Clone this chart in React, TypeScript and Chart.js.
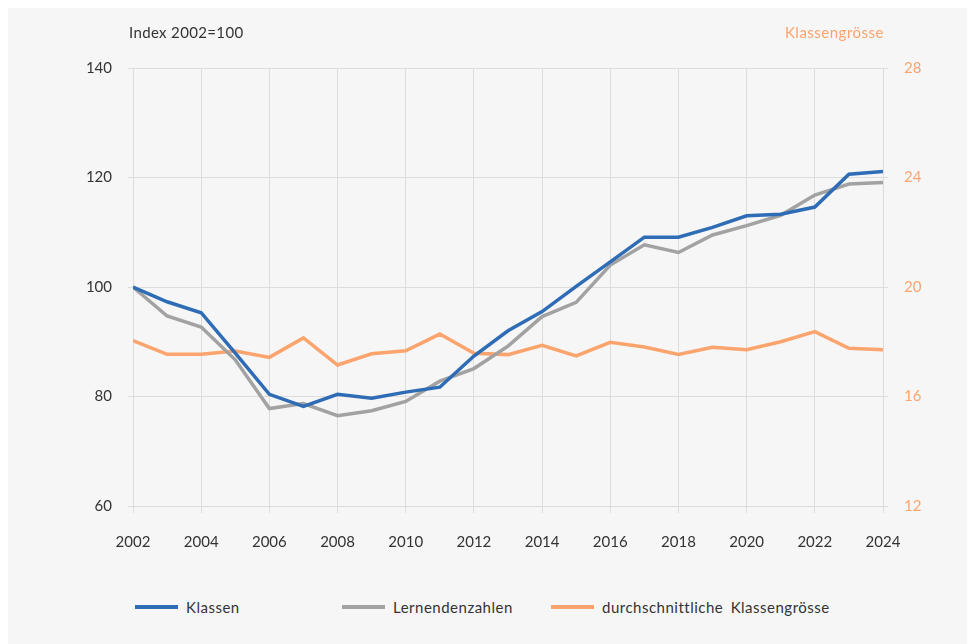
import React, { useEffect, useRef } from "react";
import { Chart, registerables } from "chart.js";

Chart.register(...registerables);

const years = [2002, 2003, 2004, 2005, 2006, 2007, 2008, 2009, 2010, 2011, 2012, 2013, 2014, 2015, 2016, 2017, 2018, 2019, 2020, 2021, 2022, 2023, 2024];
const klassen = [100, 97.3, 95.3, 87.9, 80.4, 78.2, 80.4, 79.7, 80.8, 81.7, 87.4, 92.0, 95.5, 100.1, 104.6, 109.1, 109.1, 110.9, 113.0, 113.3, 114.6, 120.6, 121.1];
const lernende = [100, 94.7, 92.7, 86.7, 77.8, 78.7, 76.5, 77.4, 79.1, 82.8, 85.1, 89.2, 94.6, 97.2, 104.0, 107.7, 106.3, 109.5, 111.2, 113.1, 116.8, 118.8, 119.1];
const klassengroesse = [18.04, 17.54, 17.54, 17.66, 17.43, 18.14, 17.15, 17.56, 17.67, 18.28, 17.58, 17.53, 17.87, 17.48, 17.98, 17.81, 17.54, 17.80, 17.71, 18.0, 18.37, 17.76, 17.71];
const leftTicks = { min: 60, max: 140, step: 20 };
const rightTicks = { min: 12, max: 28, step: 4 };
const seriesNames = ["Klassen", "Lernendenzahlen", "durchschnittliche Klassengrösse"];
const leftTitle = "Index 2002=100";
const rightTitle = "Klassengrösse";

const BLUE = "#2f6cb6";
const GRAY = "#a2a2a2";
const ORANGE = "#fca46d";
const TEXT = "#333333";
const FONT = "Lato, 'Noto Sans', sans-serif";

export default function App() {
  const ref = useRef<HTMLCanvasElement | null>(null);

  useEffect(() => {
    document.documentElement.style.overflow = "hidden";
    document.body.style.overflow = "hidden";
    const ctx = ref.current!;
    const toPts = (arr: number[]) => arr.map((v, i) => ({ x: years[i], y: v }));
    const chart = new Chart(ctx, {
      type: "line",
      data: {
        datasets: [
          { label: seriesNames[0], data: toPts(klassen), borderColor: BLUE, backgroundColor: BLUE, yAxisID: "y", borderWidth: 3.5, pointRadius: 0, tension: 0 },
          { label: seriesNames[1], data: toPts(lernende), borderColor: GRAY, backgroundColor: GRAY, yAxisID: "y", borderWidth: 3.5, pointRadius: 0, tension: 0 },
          { label: seriesNames[2], data: toPts(klassengroesse), borderColor: ORANGE, backgroundColor: ORANGE, yAxisID: "y1", borderWidth: 3.5, pointRadius: 0, tension: 0 },
        ],
      },
      options: {
        responsive: false,
        animation: false,
        layout: { padding: { top: 60, left: 0, right: 0, bottom: 0 } },
        plugins: { legend: { display: false }, tooltip: { enabled: false } },
        scales: {
          x: {
            type: "linear",
            min: years[0],
            max: years[years.length - 1],
            border: { display: false },
            grid: { color: "#dcdcdc", lineWidth: 1, tickLength: 7 },
            ticks: {
              stepSize: 2,
              padding: 20,
              color: TEXT,
              font: { family: FONT, size: 15 },
              callback: (v: any) => String(v),
              maxRotation: 0,
            },
            afterFit: (s: any) => { s.height = 60; },
          },
          y: {
            position: "left",
            min: leftTicks.min,
            max: leftTicks.max,
            border: { display: false },
            grid: { color: "#dcdcdc", lineWidth: 1, tickLength: 5 },
            ticks: { stepSize: leftTicks.step, padding: 16, color: TEXT, font: { family: FONT, size: 15 } },
            afterFit: (s: any) => { s.width = 125; },
          },
          y1: {
            position: "right",
            min: rightTicks.min,
            max: rightTicks.max,
            border: { display: false },
            grid: { color: "#dcdcdc", lineWidth: 1, tickLength: 5, drawOnChartArea: false },
            ticks: { stepSize: rightTicks.step, padding: 16, color: ORANGE, font: { family: FONT, size: 15 } },
            afterFit: (s: any) => { s.width = 92; },
          },
        },
      },
    } as any);
    return () => chart.destroy();
  }, []);

  const legendItems = [
    { name: seriesNames[0], color: BLUE, line: 127, text: 178 },
    { name: seriesNames[1], color: GRAY, line: 334, text: 385 },
    { name: seriesNames[2], color: ORANGE, line: 543, text: 594 },
  ];

  return (
    <div style={{ position: "relative", width: 967, height: 636, background: "#f6f6f6", fontFamily: FONT }}>
      <canvas ref={ref} width={967} height={558} style={{ position: "absolute", left: 0, top: 0, width: 967, height: 558 }} />
      <div style={{ position: "absolute", left: 121, top: 14, lineHeight: "20px", fontSize: 15, letterSpacing: "0.35px", color: TEXT }}>{leftTitle}</div>
      <div style={{ position: "absolute", right: 91, top: 14, lineHeight: "20px", fontSize: 15, letterSpacing: "0.5px", color: ORANGE }}>{rightTitle}</div>
      {legendItems.map((it) => (
        <React.Fragment key={it.name}>
          <div style={{ position: "absolute", left: it.line, top: 597, width: 43, height: 4, background: it.color }} />
          <div style={{ position: "absolute", left: it.text, top: 589, lineHeight: "20px", fontSize: 15, letterSpacing: "0.5px", wordSpacing: "3px", color: TEXT, whiteSpace: "nowrap" }}>{it.name}</div>
        </React.Fragment>
      ))}
    </div>
  );
}
